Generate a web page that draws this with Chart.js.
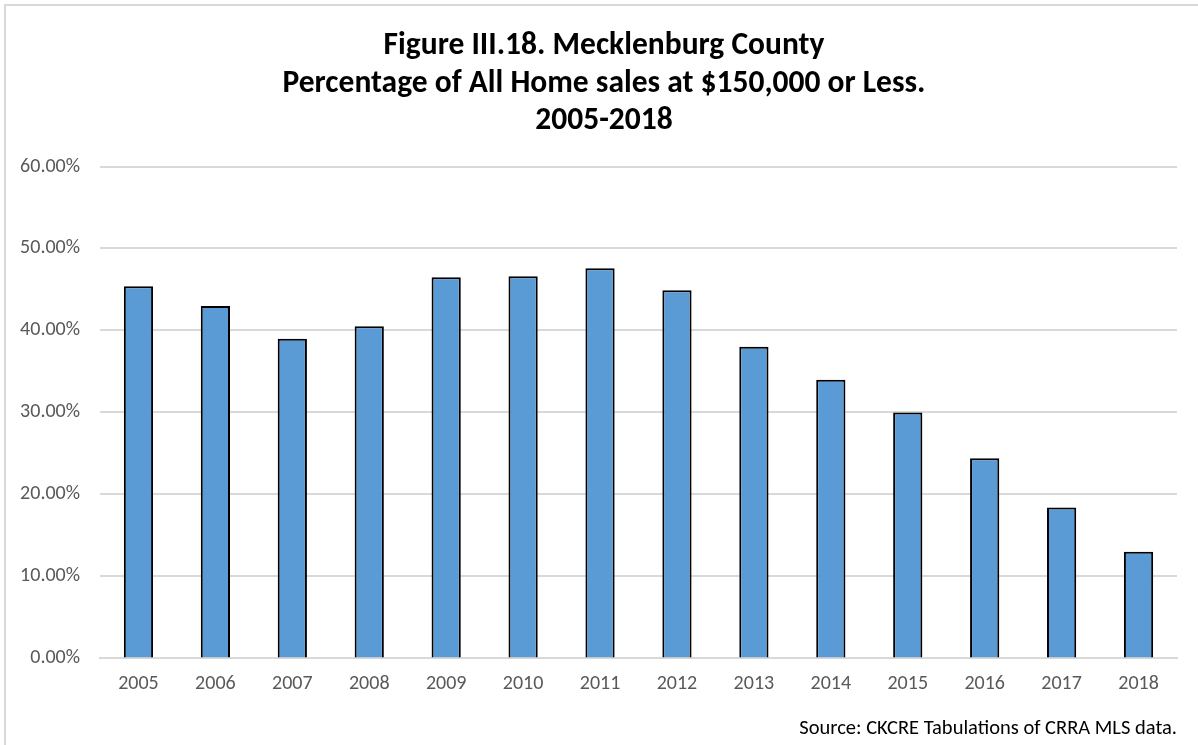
<!DOCTYPE html>
<html>
<head>
<meta charset="utf-8">
<script src="https://cdn.jsdelivr.net/npm/chart.js@4.4.1/dist/chart.umd.min.js"></script>
<style>
  html, body { margin: 0; padding: 0; background: #fff; }
  #wrap { position: absolute; left: 4px; top: 4px; width: 1300px; height: 800px; border: 2px solid #d9d9d9; box-sizing: border-box; }
  #box { position: absolute; left: 0; top: 0; width: 1198px; height: 745px; }
</style>
</head>
<body>
<div id="wrap"></div>
<div id="box"><canvas id="grafico"></canvas></div>
<script>
// anos (categorias)
const anos = ["2005", "2006", "2007", "2008", "2009", "2010", "2011", "2012", "2013", "2014", "2015", "2016", "2017", "2018"];
// percentual de vendas a $150,000 ou menos
const percentuais = [0.454, 0.430, 0.390, 0.405, 0.465, 0.466, 0.476, 0.449, 0.380, 0.340, 0.300, 0.244, 0.184, 0.130];
// ticks do eixo y
const ticksY = [0, 0.1, 0.2, 0.3, 0.4, 0.5, 0.6];

const titulo = ["Figure III.18. Mecklenburg County", "Percentage of All Home sales at $150,000 or Less.", "2005-2018"];
const fonte = "Source: CKCRE Tabulations of CRRA MLS data.";

const familia = "Carlito, 'Liberation Sans Narrow', 'Open Sans', sans-serif";

// desloca o bloco do título um pouco para a direita (centro do original ~604px)
const moverTitulo = {
  id: "moverTitulo",
  afterLayout(chart) {
    if (chart.titleBlock) chart.titleBlock.left += 31;
  }
};

const config = {
  type: "bar",
  data: {
    labels: anos,
    datasets: [{
      label: "Percentage",
      data: percentuais,
      backgroundColor: "#5b9bd5",
      borderColor: "#000000",
      borderWidth: 2,
      barPercentage: 0.76,
      categoryPercentage: 0.5
    }]
  },
  options: {
    responsive: false,
    animation: false,
    layout: { padding: { left: 0, right: 21, top: 0, bottom: 4 } },
    plugins: {
      legend: { display: false },
      tooltip: { enabled: false },
      title: {
        display: true,
        text: titulo,
        color: "#000",
        font: { family: familia, size: 31.5, weight: "bold", lineHeight: 1.18 },
        padding: { top: 28, bottom: 27 }
      },
      subtitle: {
        display: true,
        position: "bottom",
        align: "end",
        text: fonte,
        color: "#000",
        font: { family: familia, size: 20.5 },
        padding: { top: 14, bottom: 0 }
      }
    },
    scales: {
      x: {
        grid: { display: false },
        border: { color: "#d9d9d9", width: 2 },
        ticks: { color: "#595959", font: { family: familia, size: 20 }, padding: 6, maxRotation: 0 }
      },
      y: {
        min: 0,
        max: 0.6,
        afterBuildTicks: (s) => { s.ticks = ticksY.map(v => ({ value: v })); },
        afterFit: (s) => { s.width = 100; },
        grid: { color: "#d9d9d9", lineWidth: 2, drawTicks: false },
        border: { display: false },
        ticks: {
          color: "#595959",
          font: { family: familia, size: 20 },
          padding: 20,
          callback: (v) => (v * 100).toFixed(2) + "%"
        }
      }
    }
  },
  plugins: [moverTitulo]
};

const cv = document.getElementById("grafico");
cv.width = 1198;
cv.height = 745;
var meuGrafico = new Chart(cv, config);
</script>
</body>
</html>
